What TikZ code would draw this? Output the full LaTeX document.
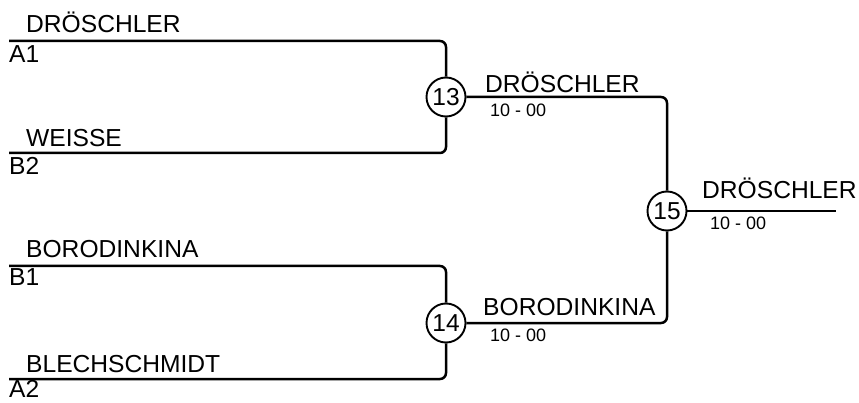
\documentclass[tikz,border=0pt]{standalone}
\usepackage{fontspec}
\setmainfont{Liberation Sans}
\begin{document}
\begin{tikzpicture}[x=1pt,y=-1pt,
  wire/.style={line width=2.5pt,rounded corners=6pt},
  matchc/.style={circle,draw,line width=1.9pt,minimum size=39pt,inner sep=0pt,font=\fontsize{24.5}{24.5}\selectfont},
  pname/.style={anchor=base west,inner sep=0pt,font=\fontsize{24.6}{24.6}\selectfont},
  pscore/.style={anchor=base west,inner sep=0pt,font=\fontsize{18}{18}\selectfont}]
\useasboundingbox (0,0) rectangle (859,403);
% match circles
\node[matchc] (c13) at (446,97) {13};
\node[matchc] (c14) at (446,323) {14};
\node[matchc] (c15) at (667,211) {15};
% entry points
\coordinate (a1) at (9,41);
\coordinate (b2) at (9,153);
\coordinate (b1) at (9,266);
\coordinate (a2) at (9,379);
\coordinate (fin) at (836,211);
% wires
\draw[wire] (a1) -| (c13);
\draw[wire] (b2) -| (c13);
\draw[wire] (b1) -| (c14);
\draw[wire] (a2) -| (c14);
\draw[wire] (c13) -| (c15);
\draw[wire] (c14) -| (c15);
\draw[wire] (c15) -- (fin);
% round 1 labels
\node[pname] (n1) at (26,33) {DRÖSCHLER};
\node[pname] (s1) at (9,63) {A1};
\node[pname] (n2) at (26,146.5) {WEISSE};
\node[pname] (s2) at (9,175) {B2};
\node[pname] (n3) at (26,258) {BORODINKINA};
\node[pname] (s3) at (9,286) {B1};
\node[pname] (n4) at (26,372.5) {BLECHSCHMIDT};
\node[pname] (s4) at (9,397) {A2};
% round 2 labels
\node[pname] (n5) at (485,93) {DRÖSCHLER};
\node[pscore] (r5) at (490,116.5) {10 - 00};
\node[pname] (n6) at (483,316) {BORODINKINA};
\node[pscore] (r6) at (490,341.5) {10 - 00};
% final
\node[pname] (n7) at (702,198.5) {DRÖSCHLER};
\node[pscore] (r7) at (710,230) {10 - 00};
\end{tikzpicture}
\end{document}
